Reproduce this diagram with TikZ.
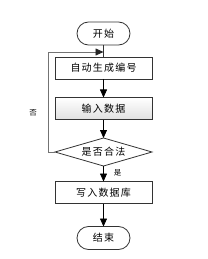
\documentclass[tikz,border=0pt]{standalone}
\usepackage{fontspec}
\newfontfamily\cjk[LetterSpace=12]{Noto Sans CJK SC}
\newfontfamily\cjksmall{Noto Sans CJK SC}
\usetikzlibrary{arrows.meta,shapes.geometric}
\begin{document}
\begin{tikzpicture}[x=1pt,y=-1pt,
  every node/.style={inner sep=0pt,outer sep=0pt},
  term/.style={draw=black!80,line width=0.8pt,rounded corners=11.5pt,minimum width=53pt,minimum height=23pt,font=\cjk\fontsize{10}{12}\selectfont},
  proc/.style={draw=black!80,line width=0.8pt,minimum width=97pt,minimum height=22pt,font=\cjk\fontsize{10}{12}\selectfont},
  dec/.style={draw=black!80,line width=0.8pt,diamond,aspect=3.4,minimum width=97pt,minimum height=28pt,font=\cjk\fontsize{10}{12}\selectfont},
  arr/.style={draw=black,line width=0.8pt,-{Triangle[length=8pt,width=7pt]}},
  looparr/.style={draw=black!55,line width=0.8pt,-{Triangle[length=8pt,width=7pt,color=black!85]}},
  lbl/.style={font=\cjksmall\fontsize{7.5}{9}\selectfont}]
\useasboundingbox (0,0) rectangle (208,259);
\node[term] (start) at (103.5,33.5) {开始};
\node[proc] (gen) at (103.5,68) {自动生成编号};
\node[proc,top color=white,bottom color=black!12] (inp) at (103.5,108.5) {输入数据};
\node[dec] (chk) at (103.5,152) {是否合法};
\node[proc] (db) at (103.5,192.5) {写入数据库};
\node[term] (end) at (103.5,238) {结束};
\coordinate (jn) at (103.5,52);
\coordinate (lc) at (48,152);
\coordinate (tc) at (48,52);
\draw[line width=0.8pt,black!80] (start.south) -- (gen.north);
\draw[arr] (gen) -- (inp);
\draw[arr] (inp) -- (chk);
\draw[arr] (chk) -- (db);
\draw[arr] (db) -- (end);
\draw[looparr] (chk.west) -- (lc) -- (tc) -- (jn);
\node[lbl] (no) at (33,113) {否};
\node[lbl] (yes) at (117.5,173) {是};
\end{tikzpicture}
\end{document}
